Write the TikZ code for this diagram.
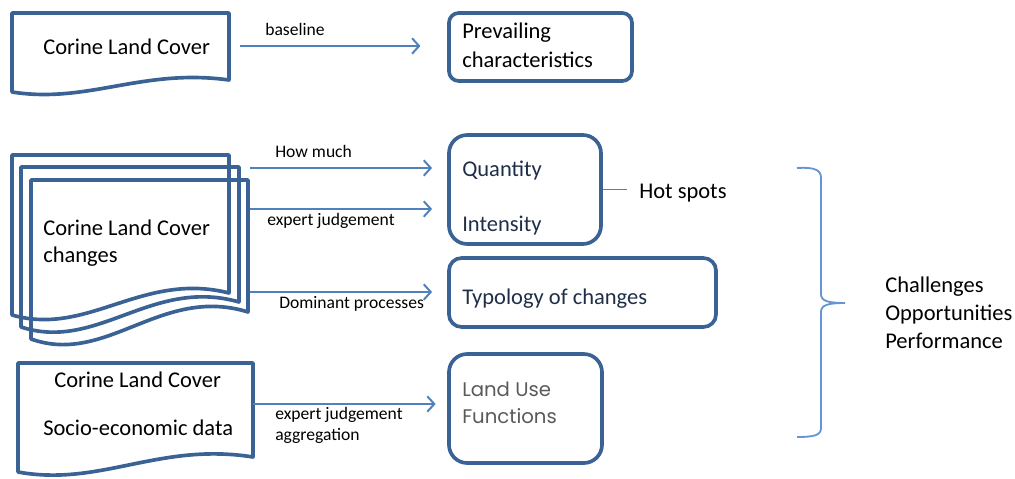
\documentclass[tikz,border=0pt]{standalone}
\usepackage{fontspec}
\setmainfont{Carlito}
\newfontfamily\geofont{Poppins}
\usetikzlibrary{calc}
\usetikzlibrary{positioning}
\usetikzlibrary{arrows.meta}

\definecolor{docblue}{HTML}{3B6295}
\definecolor{flowblue}{HTML}{4F81BD}
\definecolor{braceblue}{HTML}{6494D2}
\definecolor{navytext}{HTML}{1F2E48}
\definecolor{lugray}{HTML}{5A5A5A}

\tikzset{
  docline/.style={draw=docblue, line width=2.6pt, line join=round},
  boxline/.style={draw=docblue, line width=2.6pt, inner sep=0pt},
  flow/.style={draw=flowblue, line width=1.4pt, -{Straight Barb[length=5pt,width=11pt]}},
  lbl/.style={font=\fontsize{12.5}{15}\selectfont, inner sep=0pt, anchor=base west},
  txt/.style={font=\fontsize{16}{19}\selectfont, inner sep=0pt, anchor=base west},
}

\begin{document}
\begin{tikzpicture}[x=0.025cm,y=-0.025cm]
\useasboundingbox (0,0) rectangle (1015,479);

% documents
\foreach \l/\t/\r/\rb/\lb in {12/13/229/80/92, 12/155/229/293/315, 21/167/239/302/327, 31/180/248/312/339, 18/363/253/457/472}
{
	\draw[docline] (\l,\lb) -- (\l,\t) -- (\r,\t) -- (\r,\rb) .. controls ({\l+0.6*(\r-\l)},{\rb-1.0*(\lb-\rb)}) and ({\l+0.35*(\r-\l)},{\lb+1.0*(\lb-\rb)}) .. cycle;
}
\node[txt] (clc) at (43,55) {Corine Land Cover};
\node[txt] (chg1) at (43,235) {Corine Land Cover};
\node[txt] (chg2) at (43,262) {changes};
\node[txt] (soc1) at (54,387) {Corine Land Cover};
\node[txt] (soc2) at (43,435) {Socio-economic data};

% boxes
\node[boxline, rounded corners=7pt, minimum width=4.575cm, minimum height=1.7cm] (prev) at (540.5,47) {};
\node[boxline, rounded corners=13pt, minimum width=3.8cm, minimum height=2.725cm] (qi) at (525,189.5) {};
\node[boxline, rounded corners=9pt, minimum width=6.675cm, minimum height=1.725cm] (typ) at (582.5,292.5) {};
\node[boxline, rounded corners=13pt, minimum width=3.825cm, minimum height=2.725cm] (luf) at (525.5,408.5) {};
\node[txt] (prev1) at (462,39) {Prevailing};
\node[txt] (prev2) at (462,68) {characteristics};
\node[txt, navytext] (quan) at (462,176) {Quantity};
\node[txt, navytext] (inten) at (462,231) {Intensity};
\node[txt, navytext] (typo) at (462,304) {Typology of changes};
\node[txt, lugray, font=\geofont\fontsize{14}{17}\selectfont] (luf1) at (462,396) {Land Use};
\node[txt, lugray, font=\geofont\fontsize{14}{17}\selectfont] (luf2) at (462,423) {Functions};

% arrows
\coordinate (base-out) at (240,46);
\coordinate (much-out) at (250,168);
\coordinate (jud-out) at (250,209);
\coordinate (dom-out) at (250,292);
\coordinate (agg-out) at (253,404);
\draw[flow, shorten >=19pt] (base-out) -- (prev.west |- base-out);
\draw[flow, shorten >=10.7pt] (much-out) -- (qi.west |- much-out);
\draw[flow, shorten >=10.7pt] (jud-out) -- (qi.west |- jud-out);
\draw[flow, shorten >=10.7pt] (dom-out) -- (typ.west |- dom-out);
\draw[flow, shorten >=8.2pt] (agg-out) -- (luf.west |- agg-out);
\node[lbl] (lb-base) at (265,36) {baseline};
\node[lbl] (lb-much) at (275,157) {How much};
\node[lbl] (lb-jud) at (267,226) {expert judgement};
\node[lbl] (lb-dom) at (279,308) {Dominant processes};
\node[lbl] (lb-jud2) at (275,419) {expert judgement};
\node[lbl] (lb-agg) at (275,440) {aggregation};

% hot spots
\node[txt] (hot) at (639,198) {Hot spots};
\draw[flowblue, line width=1.4pt, shorten >=8.5pt] (qi.east) -- (hot.west |- qi.east);

% brace
\draw[braceblue, line width=1.3pt] (797,168) .. controls (815,167) and (821,170) .. (821,178) -- (821,294) .. controls (821,301) and (828,303) .. (845,303) .. controls (828,303) and (821,305) .. (821,312) -- (821,428) .. controls (821,435) and (815,437) .. (797,437);
\node[txt] (chal) at (885,292) {Challenges};
\node[txt] (opp) at (885,320) {Opportunities};
\node[txt] (perf) at (885,348) {Performance};

\end{tikzpicture}
\end{document}
